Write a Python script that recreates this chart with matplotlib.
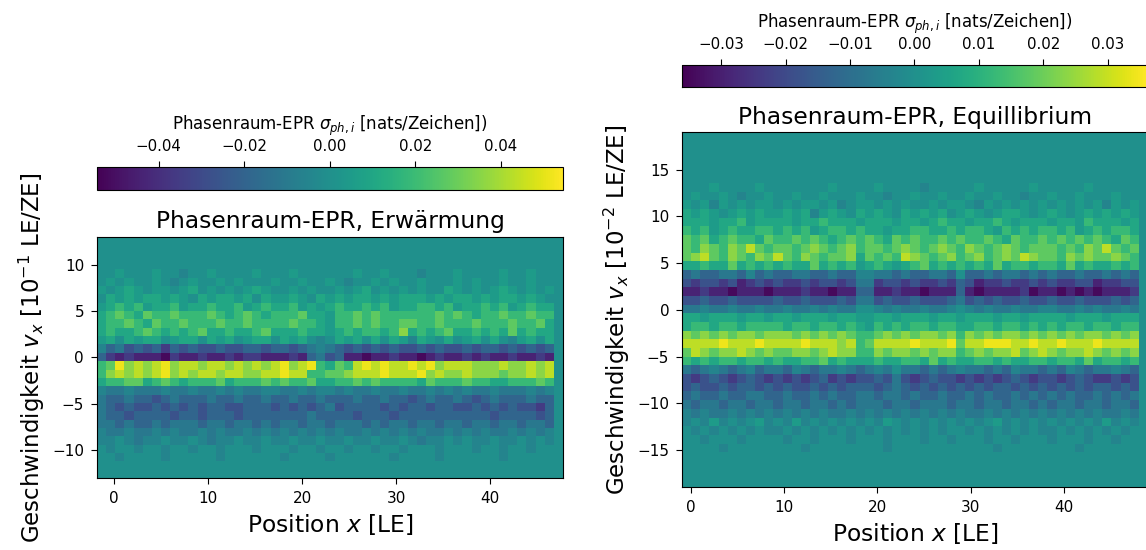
import numpy as np
import matplotlib
matplotlib.use("Agg")
import matplotlib.pyplot as plt

# Zeichen -> Anteil von vmax (klein = positiv, gross = negativ)
levels = {'.': 0.0, '+': 0.1, '-': -0.1,
          'a': 0.2, 'b': 0.35, 'c': 0.5, 'd': 0.65, 'e': 0.8, 'f': 0.95,
          'A': -0.2, 'B': -0.35, 'C': -0.5, 'D': -0.65, 'E': -0.8, 'F': -0.95}

# Erwaermung: 29 Geschwindigkeitszeilen (oben -> unten), 51 Positionsspalten
vmax_heat = 0.0545
ext_heat = (-1.8, 47.7, -13, 13)
rows_heat = [
    "", "", "", "",
    "..+...+..- ..+....+.. .+......+. .+...-...+ ....+..+..",
    ".+.+..+.-. +..+.+...+ ..+..+.-.. +.+..+...+ .+..+..+..",
    "+.+a+.++.+ a.+.+.+a+. .+.+..+.+a .+.+.+..a+ .+.+a+.+.+",
    ".a+a+aa+a+ .a+aa+a.a+ +a+.a+a+aa +a+aaa+a+a a+a+aa+a+.",
    "+abab+aab+ aabaab+aba ab+a+abaab ab+aabbab+ aabab+abaa",
    "abcbacbbcb bbcbabcbab bbcaa+bbcb cbbbbbbcbc babbcbbcbb",
    "abbcbacbbc bbbcbbcbbb bcbba+bbcb cbbccbbcbb bcbbbcbbca",
    "abaabcbaba bcaabaabca aabaa+abab babdababca ababacabaa",
    "+a.a+aa.+a a.a+a.+aa. a+a.-.a+a. a.a+-a+.a. +a.a.-+a.a",
    "-BACBCBDBC BCCBCCBBCB BCBA-ABCBC BCBCCBCBCC BCBBCBCBCB",
    "BDEDEEEFDE EDEEDEDDEE EDEBACBEEF EEDEEFEDEE DEDEEDEEDE",
    "bcfdedefde edeededede fdefbacbef efeefefdee edddeddede",
    "bdededefde deedeeddee feebbccdee efeeefdedd edddcddede",
    "abbccabcba bbbcabbbcb cbbcaabbcb cbbbbacbbb cbbaabbbcb",
    "-AA-AAA-AA -AA-A-AA-- AA-A--A-AA -AA-AA-A-A -AA-AAA-A-",
    "ABBABBCBAB BBABBABBAB BABBABBBAB BABBCBABBA BCBABBBABB",
    "ABCBCCBCBC BCBBCCBBBC BCBCBACBBB BCBCBBCBBC CBCBCBCCDB",
    "ABBCBBBBCB BCBBBCBBBB BBBABBBBCB BBCBBBBBBB BBBCBBBBCB",
    "AABABBABAA ABAABAABAB AABAABAAAB ABAABAABAA BAABAABAAB",
    "-AA-AA-A-A A-A-AA-A-A -A-A-A-AA- A-A-A-AA-A -A-AA-A-A-",
    "--.-A--.-- .-A--.--.- -.--.--.-- .--.-A--.- .--.--.-.-",
    ".-..-..-.. -..-...-.. .-..-..-.. -..-...-.. .-..-..-..",
    "..-....-.. ...-...... -....-.... ..-....-.. ....-.....",
    "", "",
]

# Equillibrium: 41 Geschwindigkeitszeilen, 51 Positionsspalten
vmax_eq = 0.0361
ext_eq = (-0.9, 49.0, -19, 19)
rows_eq = [
    "", "", "", "", "", "",
    "...+....+. ......+... .+....-... ..+.....+. ....+.....",
    ".+..+.-..+ ..+..+...+ ..-..+..+. .+..+..-.. +..+...+..",
    "+.+-+.+.++ .+.++.+-.+ +.+.+..+.+ +.-+.+.+.+ .+.+.+-+.+",
    "a+a+.+a+a+ +a+a-+a+.a +a+.a+a+a. +a+.+aa+.+ a+.+a+a+a+",
    "aaa+aab+aa aa+aabaaa+ aaa+aa+aba a+aaba+aaa +aa+baaa+a",
    "bab+abaabb abab+abbab aa+aabbaab abba+babab bab+ababba",
    "cbcabcbbac bbcbcbabcb cbacbcbbcb cbbcbacbbc bcbcbcbacb",
    "cbdcbdcecb ccbcdcbcdb ccbcdcbcdc bdcbcdcbcc cbcbdcecbc",
    "cdecbdcbdc ecbdcbccda cbcbedcbcd bcdbcdcedc cbdcdccdcb",
    "aabaacabab abaacabab+ aba+abcaba babacabbab bacabaabab",
    "BABBAAB-BA BBAABBABB- -AABABBAAB .BBABAABAB ABBABBABAB",
    "CDCCDCEDCD CDDCDCCDCA ADCCDCDDCD BCEDDCDDCD CDDCCEDDCC",
    "EEDEEFEEEF EEEDEEFEEB BEEDEEFEEE BEFEEEEDFE EFEFEFEEED",
    "CCBCCBCCCC BCCBCCCBCA ACBCCBCCCB ACBCBCCBCC BCCBCCCBCB",
    "AA-AA-AA-A A-AA-A-AA. .-A-AA-AA- .-A-AA-AA- -AA-A-AA-A",
    "aa+aaa+aa+ aa+aaa+aa+ +aa+aaa+aa +aaa+aa+aa aa+aaa+aaa",
    "abbabbabbb babbabbaba +bababbabb aabbabbaba babbabbabb",
    "dcdcdcddcd ddcdcdcdcb bcdcdcddcd bdcdcddcdc dcdcddcdcd",
    "eeeefeeefe eeefeeedeb ceeeefeeef ceefffeefe efeeefeeee",
    "cedcddedcd ccddcdeddb bdcddcdcdd bcdcddecde dcddedcdcd",
    "bababbabba baabbcabaa abaabbacab aabbabaabb abbacabbab",
    "ABA-ABA-BA AB-ABAA-AB A-A.AABABA -AABAB-AAB AB-ABAA-AB",
    "CDCBCDCBCD CDCDCBDCDC CBCACDCBCC DCDCDCBCDC CDCBCDDCDC",
    "CBCCBCBBCB CBCCBCBCBB BCBABCBCBC BCBCBBCBCB CBCBCBBCBC",
    "BABBABBAAB BABBABABBA ABAABABBAB BABABBABAB ABABBABABA",
    "ABAABAABAA BAABAABABA AABAABAAAB AABAABAABA BAABAABAAB",
    "-A-AA-A-A- A-A-A-AA-A -A-A-A-A-A -AA-A-A-A- A-A-A-AA-A",
    "-.-+-.-.+- .-+-.-.-.- .-+.-.-.-. -.-.+-.-.- .-.-.-+-.-",
    ".-.-.-.-.- -.-.-.-.-. -.-.-.-.-. .-.-.-.-.- -.-.-.-.-.",
    "..-...-... .-..-...-. ..-...-..- ...-..-... -...-..-..",
    "....-..... ...-...... ..-....... ....-..... ...-......",
    "", "", "", "",
]

ncols = 51
cbar_label = r"Phasenraum-EPR $\sigma_{ph,i}$ [nats/Zeichen])"


def decode(rows, vmax):
    grid = np.zeros((len(rows), ncols))
    for j, row in enumerate(rows):
        row = row.replace(" ", "").ljust(ncols, ".")[:ncols]
        grid[j] = [levels[c] * vmax for c in row]
    return grid


fig = plt.figure(figsize=(11.46, 5.5), dpi=100)

ax1 = fig.add_axes([0.0849, 0.1304, 0.4061, 0.4393])
cax1 = fig.add_axes([0.0844, 0.6545, 0.4066, 0.0424])
ax2 = fig.add_axes([0.5954, 0.114, 0.4063, 0.6455])
cax2 = fig.add_axes([0.5949, 0.8413, 0.406, 0.0405])

panels = [
    (ax1, cax1, rows_heat, vmax_heat, ext_heat, "Erwärmung", r"$10^{-1}$",
     [-10, -5, 0, 5, 10], [-0.04, -0.02, 0.0, 0.02, 0.04]),
    (ax2, cax2, rows_eq, vmax_eq, ext_eq, "Equillibrium", r"$10^{-2}$",
     [-15, -10, -5, 0, 5, 10, 15], [-0.03, -0.02, -0.01, 0.0, 0.01, 0.02, 0.03]),
]

for ax, cax, rows, vmax, ext, name, scale, yticks, cticks in panels:
    im = ax.imshow(decode(rows, vmax), cmap="viridis", vmin=-vmax, vmax=vmax,
                   extent=ext, origin="upper", aspect="auto",
                   interpolation="nearest")
    ax.set_title("Phasenraum-EPR, " + name, fontsize=16.8)
    ax.set_xlabel("Position $x$ [LE]", fontsize=16.8)
    ax.set_ylabel("Geschwindigkeit $v_x$ [" + scale + " LE/ZE]", fontsize=16.5)
    ax.set_xticks([0, 10, 20, 30, 40])
    ax.set_yticks(yticks)
    ax.tick_params(labelsize=11, length=4.5, pad=5)

    cb = fig.colorbar(im, cax=cax, orientation="horizontal")
    cb.set_ticks(cticks)
    cax.xaxis.set_ticks_position("top")
    cax.xaxis.set_label_position("top")
    cax.tick_params(labelsize=10.8, length=4.5, pad=5)
    cb.set_label(cbar_label, fontsize=12, labelpad=6)

fig.savefig("out.png", dpi=100)
